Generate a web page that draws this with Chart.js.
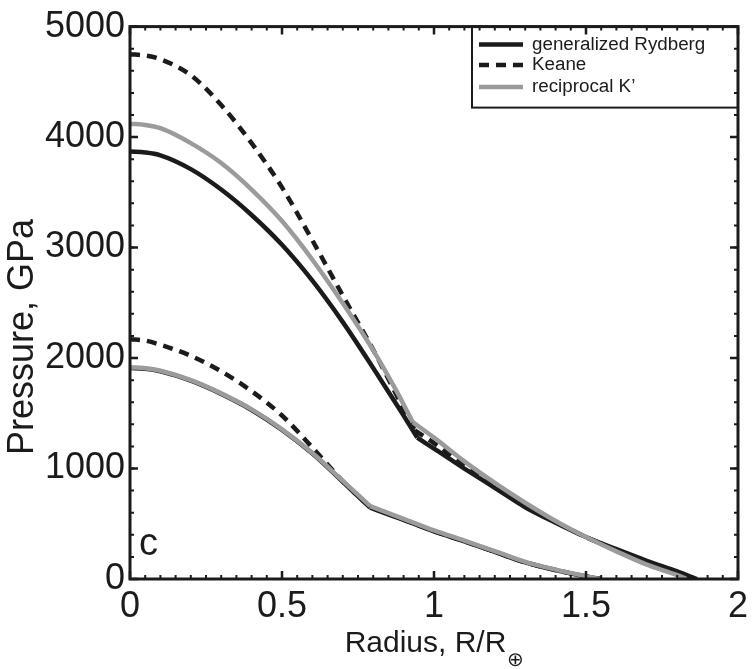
<!DOCTYPE html>
<html lang="en">
<head>
<meta charset="UTF-8">
<title>Pressure vs radius</title>
<script src="https://cdn.jsdelivr.net/npm/chart.js"></script>
<style>
  html, body { margin: 0; padding: 0; background: #fff; }
</style>
</head>
<body>
<canvas id="chart" width="754" height="669"></canvas>
<script>
// legend names (one per EOS model)
const modelNames = ['generalized Rydberg', 'Keane', 'reciprocal K’'];

// axis ticks
const xTicks = [0, 0.5, 1, 1.5, 2];
const xTickLabels = ['0', '0.5', '1', '1.5', '2'];
const yTicks = [0, 1000, 2000, 3000, 4000, 5000];
const yTickLabels = ['0', '1000', '2000', '3000', '4000', '5000'];
const panelLabel = 'c';

// upper (larger planet) profiles: radius R/R_earth, pressure GPa
const rydbergHiR = [0, 0.05, 0.1, 0.2, 0.3, 0.4, 0.5, 0.6, 0.7, 0.8, 0.9, 0.945, 1.0, 1.1, 1.2, 1.3, 1.4, 1.5, 1.6, 1.7, 1.8, 1.865];
const rydbergHiP = [3870, 3861, 3835, 3710, 3525, 3295, 3025, 2700, 2325, 1910, 1480, 1280, 1180, 1000, 825, 650, 510, 380, 270, 165, 68, 0];
const rydbergHiKink = 0.945;

const keaneHiR = [0, 0.05, 0.1, 0.2, 0.3, 0.4, 0.5, 0.6, 0.7, 0.8, 0.9, 0.937, 1.0, 1.1, 1.2, 1.3, 1.4, 1.5, 1.6, 1.7, 1.8, 1.85];
const keaneHiP = [4750, 4738, 4705, 4560, 4290, 3945, 3545, 3065, 2565, 2075, 1540, 1345, 1230, 1030, 845, 665, 515, 380, 260, 145, 50, 0];
const keaneHiKink = 0.937;

const reciprocalHiR = [0, 0.05, 0.1, 0.2, 0.3, 0.4, 0.5, 0.6, 0.7, 0.8, 0.88, 0.93, 1.0, 1.1, 1.2, 1.3, 1.4, 1.5, 1.6, 1.7, 1.8, 1.83];
const reciprocalHiP = [4120, 4110, 4080, 3945, 3765, 3525, 3240, 2890, 2495, 2070, 1685, 1420, 1280, 1065, 870, 690, 525, 380, 250, 130, 35, 0];
const reciprocalHiKink = 0.93;

// lower (smaller planet) profiles
const rydbergLoR = [0, 0.05, 0.1, 0.2, 0.3, 0.4, 0.5, 0.6, 0.7, 0.79, 0.9, 1.0, 1.1, 1.2, 1.3, 1.4, 1.5, 1.55];
const rydbergLoP = [1910, 1903, 1880, 1795, 1675, 1530, 1350, 1135, 880, 645, 535, 430, 340, 245, 150, 80, 22, 0];

const keaneLoR = [0, 0.05, 0.1, 0.2, 0.3, 0.4, 0.5, 0.6, 0.7, 0.79, 0.9, 1.0, 1.1, 1.2, 1.3, 1.4, 1.5, 1.55];
const keaneLoP = [2170, 2158, 2120, 2020, 1880, 1700, 1480, 1190, 885, 650, 538, 433, 342, 247, 152, 82, 23, 0];

const reciprocalLoR = [0, 0.05, 0.1, 0.2, 0.3, 0.4, 0.5, 0.6, 0.7, 0.79, 0.9, 1.0, 1.1, 1.2, 1.3, 1.4, 1.5, 1.545];
const reciprocalLoP = [1915, 1908, 1885, 1800, 1680, 1535, 1355, 1140, 888, 660, 545, 440, 348, 252, 155, 85, 25, 0];
const loKink = 0.79;

const BLACK = '#1b1b1b';
const GRAY = '#9b9b9b';
const FONT = "'Liberation Sans', Arial, Helvetica, sans-serif";
const DASH = [10, 7];

// split a profile at the core/mantle kink so the corner stays sharp
function splitAt(xs, ys, k) {
    const inner = [], outer = [];
    xs.forEach((x, i) => {
        if (x <= k) inner.push({ x: x, y: ys[i] });
        if (x >= k) outer.push({ x: x, y: ys[i] });
    });
    return [inner, outer];
}

function lines(label, xs, ys, k, color, dash, order) {
    return splitAt(xs, ys, k).map(part => ({
        label: label,
        data: part,
        borderColor: color,
        borderWidth: 4.5,
        borderDash: dash,
        borderCapStyle: 'butt',
        borderJoinStyle: 'miter',
        pointRadius: 0,
        fill: false,
        cubicInterpolationMode: 'monotone',
        order: order
    }));
}

// draws the box frame, inward ticks, legend and text labels
const framePlugin = {
    id: 'frame',
    afterDraw(chart) {
        const ctx = chart.ctx;
        const a = chart.chartArea;
        const xs = chart.scales.x;
        const ys = chart.scales.y;
        ctx.save();
        ctx.strokeStyle = BLACK;
        ctx.fillStyle = BLACK;

        // legend box
        const bl = a.right - 266, bt = a.top, bb = a.top + 81;
        ctx.fillStyle = '#fff';
        ctx.fillRect(bl, bt, a.right - bl, bb - bt);
        ctx.lineWidth = 2;
        ctx.strokeRect(bl, bt, a.right - bl, bb - bt);
        const rows = [18, 38.5, 60.5];
        const colors = [BLACK, BLACK, GRAY];
        const dashes = [[], DASH, []];
        ctx.font = '18.8px ' + FONT;
        ctx.textBaseline = 'middle';
        ctx.textAlign = 'left';
        modelNames.forEach((name, i) => {
            const yy = bt + rows[i];
            ctx.beginPath();
            ctx.setLineDash(dashes[i]);
            ctx.lineWidth = 4.5;
            ctx.strokeStyle = colors[i];
            ctx.moveTo(bl + 7, yy);
            ctx.lineTo(bl + 51, yy);
            ctx.stroke();
            ctx.setLineDash([]);
            ctx.fillStyle = BLACK;
            ctx.fillText(name, bl + 60, yy);
        });
        ctx.strokeStyle = BLACK;

        // minor ticks
        ctx.lineWidth = 2;
        ctx.beginPath();
        for (let k = 0; k <= 40; k++) {
            const px = xs.getPixelForValue(k * 0.05);
            ctx.moveTo(px, a.bottom); ctx.lineTo(px, a.bottom - 4);
            ctx.moveTo(px, a.top); ctx.lineTo(px, a.top + 4);
        }
        for (let k = 0; k <= 25; k++) {
            const py = ys.getPixelForValue(k * 200);
            ctx.moveTo(a.left, py); ctx.lineTo(a.left + 4, py);
            ctx.moveTo(a.right, py); ctx.lineTo(a.right - 4, py);
        }
        ctx.stroke();

        // major ticks
        ctx.lineWidth = 2.5;
        ctx.beginPath();
        xTicks.forEach(v => {
            const px = xs.getPixelForValue(v);
            ctx.moveTo(px, a.bottom); ctx.lineTo(px, a.bottom - 8);
            ctx.moveTo(px, a.top); ctx.lineTo(px, a.top + 8);
        });
        yTicks.forEach(v => {
            const py = ys.getPixelForValue(v);
            ctx.moveTo(a.left, py); ctx.lineTo(a.left + 8, py);
            ctx.moveTo(a.right, py); ctx.lineTo(a.right - 8, py);
        });
        ctx.stroke();

        // frame
        ctx.lineWidth = 3;
        ctx.strokeRect(a.left, a.top, a.right - a.left, a.bottom - a.top);

        // panel letter
        ctx.fillStyle = BLACK;
        ctx.font = '38px ' + FONT;
        ctx.textBaseline = 'alphabetic';
        ctx.fillText(panelLabel, a.left + 9, a.bottom - 24);

        // x title with subscript
        const main = 'Radius, R/R';
        const sub = '\u2295';
        ctx.font = '30px ' + FONT;
        const w1 = ctx.measureText(main).width;
        ctx.font = '20px ' + FONT;
        const w2 = ctx.measureText(sub).width;
        const cx = (a.left + a.right) / 2;
        const sx = cx - (w1 + w2) / 2;
        ctx.font = '30px ' + FONT;
        ctx.fillText(main, sx, 652);
        ctx.font = '20px ' + FONT;
        ctx.fillText(sub, sx + w1 + 1, 666);

        // y title
        ctx.save();
        ctx.translate(33, 337);
        ctx.rotate(-Math.PI / 2);
        ctx.font = '36px ' + FONT;
        ctx.textAlign = 'center';
        ctx.fillText('Pressure, GPa', 0, 0);
        ctx.restore();

        ctx.restore();
    }
};

const ctx = document.getElementById('chart').getContext('2d');
new Chart(ctx, {
    type: 'line',
    data: {
        datasets: [
            ...lines(modelNames[1], keaneHiR, keaneHiP, keaneHiKink, BLACK, DASH, 3),
            ...lines(modelNames[1], keaneLoR, keaneLoP, loKink, BLACK, DASH, 3),
            ...lines(modelNames[0], rydbergHiR, rydbergHiP, rydbergHiKink, BLACK, [], 2),
            ...lines(modelNames[0], rydbergLoR, rydbergLoP, loKink, BLACK, [], 2),
            ...lines(modelNames[2], reciprocalHiR, reciprocalHiP, reciprocalHiKink, GRAY, [], 1),
            ...lines(modelNames[2], reciprocalLoR, reciprocalLoP, loKink, GRAY, [], 1)
        ]
    },
    options: {
        responsive: false,
        animation: false,
        devicePixelRatio: 1,
        layout: { padding: { top: 25, right: 14, left: 0, bottom: 0 } },
        plugins: {
            legend: { display: false },
            tooltip: { enabled: false }
        },
        scales: {
            x: {
                type: 'linear',
                min: 0,
                max: 2,
                grid: { display: false, drawTicks: false },
                border: { display: false },
                afterBuildTicks: s => { s.ticks = xTicks.map(v => ({ value: v })); },
                afterFit: s => { s.height = 90; },
                ticks: {
                    font: { family: FONT, size: 36 },
                    color: BLACK,
                    padding: 6,
                    maxRotation: 0,
                    autoSkip: false,
                    callback: (v, i) => xTickLabels[i]
                }
            },
            y: {
                type: 'linear',
                min: 0,
                max: 5000,
                grid: { display: false, drawTicks: false },
                border: { display: false },
                afterBuildTicks: s => { s.ticks = yTicks.map(v => ({ value: v })); },
                afterFit: s => { s.width = 130; },
                ticks: {
                    font: { family: FONT, size: 36 },
                    color: BLACK,
                    padding: 5,
                    autoSkip: false,
                    callback: (v, i) => yTickLabels[i]
                }
            }
        }
    },
    plugins: [framePlugin]
});
</script>
</body>
</html>
